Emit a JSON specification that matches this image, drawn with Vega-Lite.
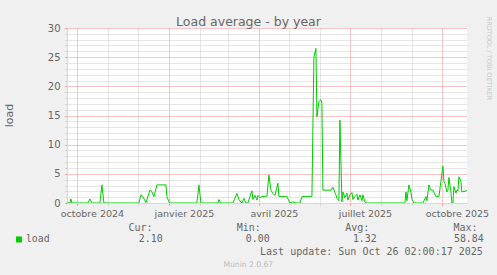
{
  "$schema": "https://vega.github.io/schema/vega-lite/v6.json",
  "width": 400,
  "height": 175,
  "autosize": {"type": "none"},
  "padding": {"left": 67, "top": 28, "right": 30, "bottom": 72},
  "background": "#F0F0F0",
  "config": {"view": {"fill": "#FFFFFF", "stroke": null}},
  "title": {"text": "Load average - by year", "font": "DejaVu Sans", "fontSize": 12.5, "fontWeight": "normal", "color": "#666666", "anchor": "middle", "frame": "group", "dx": -18.5, "offset": -12},
  "data": {"values": [
    {"date": "2024-09-21", "value": 0, "series": "load"},
    {"date": "2024-09-24", "value": 0, "series": "load"},
    {"date": "2024-09-25", "value": 0.7, "series": "load"},
    {"date": "2024-09-26", "value": 0, "series": "load"},
    {"date": "2024-10-12", "value": 0, "series": "load"},
    {"date": "2024-10-14", "value": 0.7, "series": "load"},
    {"date": "2024-10-16", "value": 0, "series": "load"},
    {"date": "2024-10-24", "value": 0, "series": "load"},
    {"date": "2024-10-26", "value": 3.1, "series": "load"},
    {"date": "2024-10-28", "value": 0, "series": "load"},
    {"date": "2024-12-02", "value": 0, "series": "load"},
    {"date": "2024-12-04", "value": 1.4, "series": "load"},
    {"date": "2024-12-06", "value": 1.1, "series": "load"},
    {"date": "2024-12-09", "value": 0.05, "series": "load"},
    {"date": "2024-12-13", "value": 2.2, "series": "load"},
    {"date": "2024-12-15", "value": 1.9, "series": "load"},
    {"date": "2024-12-17", "value": 1.1, "series": "load"},
    {"date": "2024-12-20", "value": 3.1, "series": "load"},
    {"date": "2024-12-29", "value": 3.1, "series": "load"},
    {"date": "2024-12-30", "value": 1.1, "series": "load"},
    {"date": "2025-01-01", "value": 0.2, "series": "load"},
    {"date": "2025-01-02", "value": 0, "series": "load"},
    {"date": "2025-01-29", "value": 0, "series": "load"},
    {"date": "2025-01-31", "value": 3.1, "series": "load"},
    {"date": "2025-02-02", "value": 0, "series": "load"},
    {"date": "2025-02-19", "value": 0, "series": "load"},
    {"date": "2025-02-20", "value": 0.6, "series": "load"},
    {"date": "2025-02-22", "value": 0, "series": "load"},
    {"date": "2025-03-06", "value": 0, "series": "load"},
    {"date": "2025-03-10", "value": 1.65, "series": "load"},
    {"date": "2025-03-12", "value": 0.6, "series": "load"},
    {"date": "2025-03-15", "value": 0, "series": "load"},
    {"date": "2025-03-17", "value": 0.8, "series": "load"},
    {"date": "2025-03-19", "value": 0, "series": "load"},
    {"date": "2025-03-21", "value": 0, "series": "load"},
    {"date": "2025-03-25", "value": 2.1, "series": "load"},
    {"date": "2025-03-26", "value": 0.6, "series": "load"},
    {"date": "2025-03-28", "value": 1.3, "series": "load"},
    {"date": "2025-03-30", "value": 0.5, "series": "load"},
    {"date": "2025-03-31", "value": 1.3, "series": "load"},
    {"date": "2025-04-02", "value": 0.9, "series": "load"},
    {"date": "2025-04-04", "value": 1.1, "series": "load"},
    {"date": "2025-04-07", "value": 1.1, "series": "load"},
    {"date": "2025-04-09", "value": 1.2, "series": "load"},
    {"date": "2025-04-11", "value": 4.8, "series": "load"},
    {"date": "2025-04-13", "value": 2.2, "series": "load"},
    {"date": "2025-04-15", "value": 1.65, "series": "load"},
    {"date": "2025-04-17", "value": 1.3, "series": "load"},
    {"date": "2025-04-20", "value": 3.4, "series": "load"},
    {"date": "2025-04-21", "value": 1.1, "series": "load"},
    {"date": "2025-04-29", "value": 1.1, "series": "load"},
    {"date": "2025-05-02", "value": 0, "series": "load"},
    {"date": "2025-05-05", "value": 0.2, "series": "load"},
    {"date": "2025-05-08", "value": 0, "series": "load"},
    {"date": "2025-05-12", "value": 0, "series": "load"},
    {"date": "2025-05-14", "value": 1.1, "series": "load"},
    {"date": "2025-05-24", "value": 1.1, "series": "load"},
    {"date": "2025-05-26", "value": 25, "series": "load"},
    {"date": "2025-05-28", "value": 26.5, "series": "load"},
    {"date": "2025-05-29", "value": 14.8, "series": "load"},
    {"date": "2025-05-31", "value": 17.4, "series": "load"},
    {"date": "2025-06-02", "value": 17.7, "series": "load"},
    {"date": "2025-06-03", "value": 17.1, "series": "load"},
    {"date": "2025-06-04", "value": 2.2, "series": "load"},
    {"date": "2025-06-12", "value": 2.2, "series": "load"},
    {"date": "2025-06-14", "value": 2.7, "series": "load"},
    {"date": "2025-06-16", "value": 1.8, "series": "load"},
    {"date": "2025-06-17", "value": 1.4, "series": "load"},
    {"date": "2025-06-18", "value": 0.8, "series": "load"},
    {"date": "2025-06-20", "value": 0.4, "series": "load"},
    {"date": "2025-06-21", "value": 14.2, "series": "load"},
    {"date": "2025-06-23", "value": 0.2, "series": "load"},
    {"date": "2025-06-24", "value": 1.9, "series": "load"},
    {"date": "2025-06-26", "value": 0.9, "series": "load"},
    {"date": "2025-06-28", "value": 1.7, "series": "load"},
    {"date": "2025-06-29", "value": 0.5, "series": "load"},
    {"date": "2025-07-01", "value": 1.4, "series": "load"},
    {"date": "2025-07-03", "value": 1.8, "series": "load"},
    {"date": "2025-07-04", "value": 0.6, "series": "load"},
    {"date": "2025-07-06", "value": 1.1, "series": "load"},
    {"date": "2025-07-08", "value": 1.5, "series": "load"},
    {"date": "2025-07-09", "value": 0.5, "series": "load"},
    {"date": "2025-07-11", "value": 1.4, "series": "load"},
    {"date": "2025-07-13", "value": 0.4, "series": "load"},
    {"date": "2025-07-14", "value": 1.4, "series": "load"},
    {"date": "2025-07-16", "value": 0.2, "series": "load"},
    {"date": "2025-07-17", "value": 0, "series": "load"},
    {"date": "2025-08-25", "value": 0, "series": "load"},
    {"date": "2025-08-26", "value": 1.9, "series": "load"},
    {"date": "2025-08-27", "value": 0.4, "series": "load"},
    {"date": "2025-08-29", "value": 3.1, "series": "load"},
    {"date": "2025-08-31", "value": 1.9, "series": "load"},
    {"date": "2025-09-01", "value": 0.7, "series": "load"},
    {"date": "2025-09-03", "value": 0, "series": "load"},
    {"date": "2025-09-12", "value": 0, "series": "load"},
    {"date": "2025-09-15", "value": 1.1, "series": "load"},
    {"date": "2025-09-16", "value": 0.4, "series": "load"},
    {"date": "2025-09-18", "value": 3.1, "series": "load"},
    {"date": "2025-09-20", "value": 2.2, "series": "load"},
    {"date": "2025-09-22", "value": 2.2, "series": "load"},
    {"date": "2025-09-25", "value": 1.1, "series": "load"},
    {"date": "2025-09-28", "value": 1.1, "series": "load"},
    {"date": "2025-09-30", "value": 3.7, "series": "load"},
    {"date": "2025-10-01", "value": 5.1, "series": "load"},
    {"date": "2025-10-02", "value": 6.3, "series": "load"},
    {"date": "2025-10-03", "value": 3.7, "series": "load"},
    {"date": "2025-10-04", "value": 3.4, "series": "load"},
    {"date": "2025-10-06", "value": 1.9, "series": "load"},
    {"date": "2025-10-07", "value": 2.2, "series": "load"},
    {"date": "2025-10-08", "value": 4.4, "series": "load"},
    {"date": "2025-10-10", "value": 1.9, "series": "load"},
    {"date": "2025-10-11", "value": 0, "series": "load"},
    {"date": "2025-10-12", "value": 0, "series": "load"},
    {"date": "2025-10-13", "value": 2.8, "series": "load"},
    {"date": "2025-10-15", "value": 1.7, "series": "load"},
    {"date": "2025-10-16", "value": 2.2, "series": "load"},
    {"date": "2025-10-17", "value": 2.1, "series": "load"},
    {"date": "2025-10-18", "value": 4.5, "series": "load"},
    {"date": "2025-10-20", "value": 3.7, "series": "load"},
    {"date": "2025-10-21", "value": 1.9, "series": "load"},
    {"date": "2025-10-26", "value": 2.1, "series": "load"}
  ]},
  "layer": [
    {
      "mark": {"type": "line", "strokeWidth": 1, "clip": true},
      "encoding": {
        "x": {
          "field": "date", "type": "temporal",
          "scale": {"type": "utc", "domain": [{"year": 2024, "month": 9, "date": 21, "hours": 2, "utc": true}, {"year": 2025, "month": 10, "date": 26, "hours": 2, "utc": true}]},
          "axis": {
            "values": [
              {"year": 2024, "month": 10, "date": 1, "utc": true},
              {"year": 2024, "month": 11, "date": 1, "utc": true},
              {"year": 2024, "month": 12, "date": 1, "utc": true},
              {"year": 2025, "month": 1, "date": 1, "utc": true},
              {"year": 2025, "month": 2, "date": 1, "utc": true},
              {"year": 2025, "month": 3, "date": 1, "utc": true},
              {"year": 2025, "month": 4, "date": 1, "utc": true},
              {"year": 2025, "month": 5, "date": 1, "utc": true},
              {"year": 2025, "month": 6, "date": 1, "utc": true},
              {"year": 2025, "month": 7, "date": 1, "utc": true},
              {"year": 2025, "month": 8, "date": 1, "utc": true},
              {"year": 2025, "month": 9, "date": 1, "utc": true},
              {"year": 2025, "month": 10, "date": 1, "utc": true}
            ],
            "labelExpr": "utcmonth(datum.value) % 3 == 0 ? ['janvier','février','mars','avril','mai','juin','juillet','août','septembre','octobre','novembre','décembre'][utcmonth(datum.value)] + ' ' + utcyear(datum.value) : ''",
            "labelOffset": 15,
            "labelFont": "DejaVu Sans", "labelFontSize": 9.5, "labelColor": "#666666",
            "labelPadding": 3.5, "labelOverlap": false, "labelBound": false, "labelFlush": false,
            "grid": true,
            "gridColor": {"condition": {"test": "utcmonth(datum.value) % 3 == 0", "value": "#F08888"}, "value": "#CCCCCC"},
            "gridDash": [1, 1], "gridWidth": 1,
            "ticks": true, "tickSize": 2,
            "tickColor": {"condition": {"test": "utcmonth(datum.value) % 3 == 0", "value": "#F08888"}, "value": "#CCCCCC"},
            "domainColor": "#CFD6F8", "domainWidth": 1,
            "title": "Last update: Sun Oct 26 02:00:17 2025",
            "titleFont": "DejaVu Sans Mono", "titleFontSize": 10, "titleFontWeight": "normal", "titleColor": "#666666",
            "titleX": 415.3, "titleY": 48, "titleAlign": "right", "titleBaseline": "middle", "titleAnchor": "end"
          }
        },
        "y": {
          "field": "value", "type": "quantitative",
          "scale": {"domain": [0, 30], "nice": false},
          "axis": {
            "values": [0,1,2,3,4,5,6,7,8,9,10,11,12,13,14,15,16,17,18,19,20,21,22,23,24,25,26,27,28,29,30],
            "labelExpr": "datum.value % 5 == 0 ? datum.label : ''",
            "labelFont": "DejaVu Sans", "labelFontSize": 10, "labelColor": "#666666",
            "labelPadding": 5, "labelOverlap": false, "labelFlush": false,
            "grid": true,
            "gridColor": {"condition": {"test": "datum.value % 5 == 0", "value": "#F08888"}, "value": "#CCCCCC"},
            "gridDash": [1, 1], "gridWidth": 1,
            "ticks": true, "tickSize": 2,
            "tickColor": {"condition": {"test": "datum.value % 5 == 0", "value": "#F08888"}, "value": "#CCCCCC"},
            "domainColor": "#CFD6F8", "domainWidth": 1,
            "title": "load", "titleFont": "DejaVu Sans", "titleFontSize": 11, "titleFontWeight": "normal", "titleColor": "#666666",
            "titleX": -58, "titleY": 87, "titleAngle": 270, "titleAlign": "center", "titleBaseline": "middle"
          }
        },
        "color": {
          "field": "series", "type": "nominal",
          "scale": {"range": ["#00CC00"]},
          "legend": {
            "orient": "none", "legendX": -53, "legendY": 194.5, "direction": "vertical", "padding": 0,
            "title": "\u200b\u00a0\u00a0\u00a0\u00a0\u00a0\u00a0\u00a0\u00a0\u00a0\u00a0\u00a0\u00a0\u00a0\u00a0\u00a0\u00a0\u00a0\u00a0\u00a0Cur:\u00a0\u00a0\u00a0\u00a0\u00a0\u00a0\u00a0\u00a0\u00a0\u00a0\u00a0\u00a0\u00a0\u00a0Min:\u00a0\u00a0\u00a0\u00a0\u00a0\u00a0\u00a0\u00a0\u00a0\u00a0\u00a0\u00a0\u00a0\u00a0Avg:\u00a0\u00a0\u00a0\u00a0\u00a0\u00a0\u00a0\u00a0\u00a0\u00a0\u00a0\u00a0\u00a0\u00a0Max:",
            "titleFont": "DejaVu Sans Mono", "titleFontSize": 10, "titleFontWeight": "normal", "titleColor": "#666666",
            "titlePadding": 2, "titleLimit": 1000, "titleAnchor": "start",
            "labelExpr": "datum.label + '\u00a0\u00a0\u00a0\u00a0\u00a0\u00a0\u00a0\u00a0\u00a0\u00a0\u00a0\u00a0\u00a0\u00a0\u00a02.10\u00a0\u00a0\u00a0\u00a0\u00a0\u00a0\u00a0\u00a0\u00a0\u00a0\u00a0\u00a0\u00a0\u00a00.00\u00a0\u00a0\u00a0\u00a0\u00a0\u00a0\u00a0\u00a0\u00a0\u00a0\u00a0\u00a0\u00a0\u00a01.32\u00a0\u00a0\u00a0\u00a0\u00a0\u00a0\u00a0\u00a0\u00a0\u00a0\u00a0\u00a0\u00a058.84'",
            "labelFont": "DejaVu Sans Mono", "labelFontSize": 9.9, "labelColor": "#666666", "labelLimit": 1000,
            "labelOffset": 2,
            "symbolType": "square", "symbolSize": 36, "symbolFillColor": "#00CC00", "symbolStrokeColor": "#00CC00", "symbolStrokeWidth": 0
          }
        }
      }
    },
    {
      "mark": {"type": "line", "strokeOpacity": 0},
      "encoding": {
        "x": {
          "field": "date", "type": "temporal",
          "axis": {"orient": "top", "labels": false, "ticks": false, "domain": false, "grid": false,
            "title": "Munin 2.0.67", "titleFont": "DejaVu Sans", "titleFontSize": 7.6, "titleFontWeight": "normal", "titleColor": "#BBBBBB",
            "titleX": 180.8, "titleY": 236.3, "titleAlign": "center", "titleBaseline": "middle"}
        },
        "y": {
          "field": "value", "type": "quantitative",
          "axis": {"orient": "right", "labels": false, "ticks": false, "domain": false, "grid": false,
            "title": "RRDTOOL / TOBI OETIKER", "titleFont": "DejaVu Sans", "titleFontSize": 6.5, "titleFontWeight": "normal", "titleColor": "#C8C8C8",
            "titleX": 21.7, "titleY": 30, "titleAngle": 90, "titleAlign": "center", "titleBaseline": "middle"}
        }
      }
    }
  ],
  "resolve": {"axis": {"x": "independent", "y": "independent"}}
}
